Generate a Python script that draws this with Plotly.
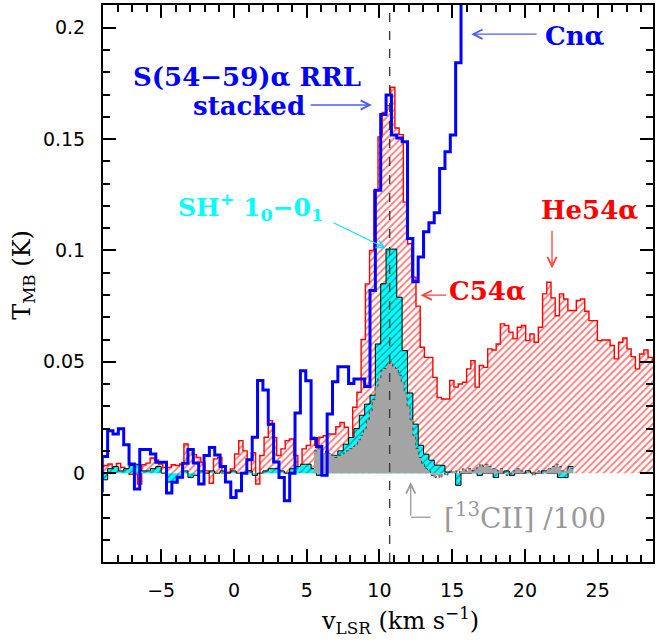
import plotly.graph_objects as go

# ---- spectral grids (first channel edge, channel width; km/s) ----
RRL_V0, RRL_DV = -9.418, 0.368     # S(54-59)alpha RRL stacked (+ Cn alpha)
C54_V0, C54_DV = -9.24, 0.29       # C54alpha / He54alpha
SH_V0, SH_DV = -9.05, 0.368        # SH+ 1_0-0_1
C13_V0, C13_DV = 5.5, 0.2          # [13CII] / 100

V_SYS = 10.7                       # systemic velocity marker

# ---- brightness temperatures (K) per channel ----
rrl_stacked = [
    -0.008, 0.0075, 0.019, 0.0176, 0.0199, 0.0128, 0.0041, -0.0071, 0.0106, 0.0106,
    0.0086, 0.0049, 0.0049, -0.0089, -0.0041, -0.0019, 0.0044, 0.0106, 0.0046, -0.0049,
    0.0079, 0.0115, 0.0082, 0.003, -0.004, -0.0109, -0.0079, 0.0, 0.006, 0.0161,
    0.0416, 0.0373, 0.022, 0.005, -0.002, -0.0124, 0.0, 0.027, 0.046, 0.0415,
    0.0155, 0.012, -0.001, 0.0266, 0.041, 0.0478, 0.0478, 0.0403, 0.0423, 0.0423,
    0.0389, 0.082, 0.127, 0.161, 0.1698, 0.1518, 0.1505, 0.1488, 0.1054, 0.0859,
    0.0971, 0.1084, 0.1124, 0.1169, 0.1368, 0.1443, 0.1518, 0.1843, 0.26, 0.30,
]

c54a = [
    0.003, 0.0034, 0.0041, 0.0025, 0.0044, 0.0026, 0.001, -0.0005, -0.0004, -0.0049,
    0.0038, 0.0045, 0.0068, 0.0059, 0.0041, 0.0026, 0.0026, 0.0038, 0.0034, 0.0041,
    0.0131, 0.0109, 0.0083, 0.007, 0.0048, 0.001, -0.0046, 0.0064, 0.007, 0.0,
    0.0004, 0.0019, 0.0086, 0.0146, 0.01, 0.001, 0.0092, -0.0049, 0.0079, 0.0161,
    0.0236, 0.016, 0.0079, 0.0109, 0.0146, 0.0153, 0.0079, 0.0019, 0.0109, 0.0124,
    0.0161, 0.0124, 0.0161, 0.0168, 0.0176, 0.0176, 0.0209, 0.0228, 0.0206, 0.0116,
    0.0296, 0.0363, 0.060, 0.085, 0.100, 0.127, 0.151, 0.162, 0.165, 0.1733,
    0.155, 0.152, 0.1217, 0.103, 0.088, 0.075, 0.0565, 0.052, 0.052, 0.043,
    0.034, 0.0333, 0.0333, 0.0416, 0.0386, 0.040, 0.0408, 0.0468, 0.0505, 0.0386,
    0.0483, 0.0475, 0.0558, 0.0553, 0.058, 0.067, 0.0663, 0.0633, 0.0603, 0.0655,
    0.0663, 0.0595, 0.0625, 0.0588, 0.0655, 0.0805, 0.0857, 0.0787, 0.0707, 0.0805,
    0.0782, 0.073, 0.073, 0.0775, 0.0782, 0.0727, 0.0685, 0.0685, 0.0595, 0.0598,
    0.0598, 0.0573, 0.0513, 0.0588, 0.0607, 0.0558, 0.0523, 0.0468, 0.0535, 0.0553,
    0.052, 0.050,
]

sh_plus = [
    -0.003, 0.002, 0.003, 0.001, 0.002, 0.0035, 0.004, 0.001, 0.001, 0.002,
    0.003, 0.0, -0.004, -0.004, -0.002, 0.001, -0.002, -0.001, 0.001, 0.0,
    0.001, 0.0, 0.001, 0.0, 0.001, 0.0, 0.0, 0.001, -0.001, 0.0,
    0.001, 0.002, 0.002, 0.001, 0.0, 0.002, 0.003, 0.004, 0.004, 0.002,
    -0.001, 0.003, 0.006, 0.008, 0.010, 0.013, 0.016, 0.020, 0.026, 0.031,
    0.035, 0.058, 0.085, 0.1006, 0.1006, 0.079, 0.055, 0.036, 0.022, 0.0125,
    0.0085, 0.0058, 0.0036, 0.0035, 0.0005, 0.0005, -0.0055, 0.0, 0.0, 0.001,
    -0.001, 0.0, 0.0, -0.002, 0.0, 0.001, -0.001, 0.0, 0.0, 0.001,
    0.0, 0.0, 0.001, 0.0, 0.0, -0.002, -0.002, 0.003,
]

c13_div100 = [
    0.010, 0.011, 0.010, 0.009, 0.010, 0.009, 0.008, 0.007, 0.008, 0.008,
    0.009, 0.010, 0.011, 0.012, 0.013, 0.015, 0.017, 0.020, 0.024, 0.028,
    0.033, 0.039, 0.043, 0.046, 0.047, 0.049, 0.050, 0.048, 0.047, 0.044,
    0.041, 0.036, 0.030, 0.024, 0.017, 0.011, 0.007, 0.004, 0.002, 0.001,
    -0.001, -0.002, -0.001, -0.002, 0.0, -0.001, 0.0, 0.001, 0.001, 0.0,
    0.001, 0.002, 0.001, 0.002, 0.001, 0.002, 0.003, 0.004, 0.003, 0.004,
    0.003, 0.002, 0.002, 0.001, 0.002, 0.0, -0.001, 0.0, 0.001, 0.002,
    0.002, 0.001, 0.0, 0.001, 0.0, -0.001, 0.0, 0.001, 0.0, 0.001,
    0.002, 0.002, 0.003, 0.004, 0.003, 0.001, 0.001, 0.002, 0.002,
]

X_TICKS = [-5, 0, 5, 10, 15, 20, 25]
Y_TICKS = [0, 0.05, 0.1, 0.15, 0.2]


def step_xy(v0, dv, vals):
    """Channel edges and values for an 'hv' step histogram."""
    edges = [v0 + dv * i for i in range(len(vals) + 1)]
    return edges, list(vals) + [vals[-1]]


fig = go.Figure()

# C54alpha + He54alpha: red hatched histogram
x, y = step_xy(C54_V0, C54_DV, c54a)
fig.add_trace(go.Scatter(
    x=x, y=y, mode="lines", line_shape="hv",
    line=dict(color="#ff0000", width=1.4),
    fill="tozeroy", fillcolor="rgba(0,0,0,0)",
    fillpattern=dict(shape="/", fgcolor="#ff0000", bgcolor="rgba(255,255,255,0)",
                     size=5, solidity=0.38),
    hoverinfo="skip", showlegend=False,
))

# SH+ : cyan, dark hatching
x, y = step_xy(SH_V0, SH_DV, sh_plus)
fig.add_trace(go.Scatter(
    x=x, y=y, mode="lines", line_shape="hv",
    line=dict(color="#000000", width=1),
    fill="tozeroy", fillcolor="#00ffff",
    fillpattern=dict(shape="/", fgcolor="#0b4a4a", bgcolor="#00ffff",
                     size=5, solidity=0.3),
    hoverinfo="skip", showlegend=False,
))

# [13CII]/100 : solid grey, dotted outline
x, y = step_xy(C13_V0, C13_DV, c13_div100)
fig.add_trace(go.Scatter(
    x=x, y=y, mode="lines", line_shape="hv",
    line=dict(color="#444444", width=1, dash="dot"),
    fill="tozeroy", fillcolor="#a4a4a4",
    hoverinfo="skip", showlegend=False,
))

# Stacked sulphur RRL (and Cn alpha wing): thick blue step line
x, y = step_xy(RRL_V0, RRL_DV, rrl_stacked)
fig.add_trace(go.Scatter(
    x=x, y=y, mode="lines", line_shape="hv",
    line=dict(color="#0000ff", width=3),
    hoverinfo="skip", showlegend=False,
))

# systemic velocity
fig.add_shape(type="line", x0=V_SYS, x1=V_SYS, y0=0, y1=1, yref="paper",
              line=dict(color="#3c3c3c", width=1.4, dash="dash"))

LBL_FONT = "DejaVu Serif"


def label(text, x, y, color, size=26, bold=True):
    fig.add_annotation(x=x, y=y, text=f"<b>{text}</b>" if bold else text,
                       showarrow=False, xanchor="center", yanchor="middle",
                       font=dict(family=LBL_FONT, size=size, color=color))


def arrow(x_tail, y_tail, x_head, y_head, color, width=1.3):
    fig.add_annotation(x=x_head, y=y_head, ax=x_tail, ay=y_tail,
                       axref="x", ayref="y", xref="x", yref="y", text="",
                       showarrow=True, arrowhead=5, arrowsize=1.4,
                       arrowwidth=width, arrowcolor=color, standoff=0)


label("S(54−59)α RRL", 0.93, 0.1778, "#0000ff")
label("stacked", 1.0, 0.1648, "#0000ff")
arrow(5.17, 0.1653, 9.48, 0.1653, "#4a5cff")

label("Cnα", 23.42, 0.1963, "#0000ff")
arrow(20.9, 0.1971, 16.31, 0.1971, "#4a5cff")

label("SH<sup>+</sup> 1<sub>0</sub>−0<sub>1</sub>", 1.15, 0.1194, "#00ffff", size=25)
arrow(6.74, 0.1127, 10.43, 0.101, "#00e5ff", width=1.1)

label("He54α", 24.46, 0.118, "#ff0000")
arrow(21.86, 0.1095, 21.86, 0.092, "#ff4040")

label("C54α", 17.41, 0.0817, "#ff0000")
arrow(14.68, 0.0799, 12.83, 0.0799, "#ff4040")

label("[<sup>13</sup>CII] /100", 20.01, -0.0193, "#999999", size=28, bold=False)
fig.add_shape(type="line", x0=13.51, x1=12.15, y0=-0.0198, y1=-0.0198,
              line=dict(color="#9a9a9a", width=1.3))
arrow(12.15, -0.0198, 12.15, -0.0041, "#9a9a9a")

# axis titles
fig.add_annotation(xref="paper", yref="paper", x=-0.146, y=0.515,
                   text="T<sub>MB</sub> (K)", textangle=-90, showarrow=False,
                   xanchor="center", yanchor="middle",
                   font=dict(family=LBL_FONT, size=24, color="#000000"))
fig.add_annotation(xref="paper", yref="paper", x=0.54, y=-0.105,
                   text="v<sub>LSR</sub> (km s<sup>−1</sup>)", showarrow=False,
                   xanchor="center", yanchor="middle",
                   font=dict(family=LBL_FONT, size=24, color="#000000"))

axis_common = dict(
    showline=True, linecolor="#000000", linewidth=2, mirror="ticks",
    ticks="inside", tickcolor="#000000", tickwidth=1.8, ticklen=13,
    showgrid=False, zeroline=False,
    tickfont=dict(family="DejaVu Sans", size=19, color="#000000"),
)

fig.update_xaxes(range=[-9.0, 28.8], tickvals=X_TICKS,
                 minor=dict(dtick=1, tick0=0, ticks="inside", ticklen=7,
                            tickwidth=1.5, tickcolor="#000000"),
                 ticklabelstandoff=10, **axis_common)
fig.update_yaxes(range=[-0.0399, 0.2102], tickvals=Y_TICKS,
                 ticktext=["0", "0.05", "0.1", "0.15", "0.2"],
                 minor=dict(dtick=0.01, tick0=0, ticks="inside", ticklen=7,
                            tickwidth=1.5, tickcolor="#000000"),
                 ticklabelstandoff=12, **axis_common)

fig.update_layout(
    width=656, height=642,
    margin=dict(l=103, r=1, t=5, b=80),
    plot_bgcolor="#ffffff", paper_bgcolor="#ffffff",
    showlegend=False,
)

fig.write_html("out.html")
